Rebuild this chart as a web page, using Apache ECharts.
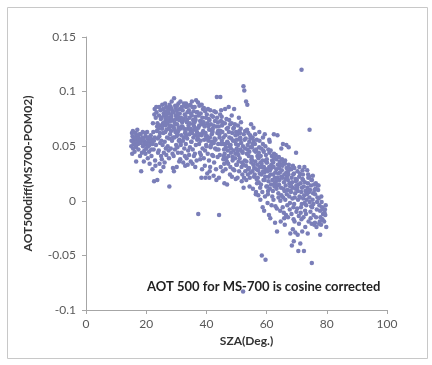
<!DOCTYPE html>
<html>
<head>
<meta charset="utf-8">
<script src="https://cdn.jsdelivr.net/npm/echarts@6/dist/echarts.min.js"></script>
<style>html,body{margin:0;padding:0;background:#fff}#c{width:432px;height:365px}</style>
</head>
<body>
<div id="c"></div>
<script>
// [SZA (deg), AOT500 diff] pairs
const ptsSza15to30 = [
[15.12,0.055],[15.47,0.059],[15.83,0.052],[15.26,0.062],[15.64,0.048],[15.91,0.057],[15.35,0.043],[15.72,0.054],[15.05,0.050],[15.58,0.064],
[16.38,0.056],[16.07,0.053],[16.81,0.060],[16.55,0.049],[16.22,0.058],[16.93,0.054],[16.66,0.036],[16.44,0.062],[16.15,0.045],[16.74,0.051],
[17.63,0.055],[17.18,0.059],[17.42,0.047],[17.87,0.053],[17.05,0.065],[17.71,0.061],[17.29,0.052],[17.95,0.041],[17.52,0.057],
[18.21,0.053],[18.74,0.058],[18.46,0.055],[18.09,0.061],[18.92,0.050],[18.33,0.027],[18.58,0.044],[18.85,0.063],[18.14,0.056],
[19.56,0.054],[19.28,0.051],[19.83,0.059],[19.12,0.056],[19.67,0.062],[19.39,0.046],[19.94,0.052],[19.21,0.036],[19.75,0.043],
[20.44,0.057],[20.16,0.053],[20.89,0.055],[20.62,0.050],[20.31,0.063],[20.77,0.058],[20.05,0.048],[20.53,0.039],[20.96,0.045],
[21.27,0.054],[21.83,0.056],[21.51,0.060],[21.08,0.051],[21.66,0.047],[21.39,0.058],[21.92,0.053],[21.14,0.034],[21.74,0.041],
[22.58,0.055],[22.13,0.052],[22.86,0.058],[22.37,0.063],[22.71,0.079],[22.24,0.071],[22.49,0.047],[22.95,0.037],[22.62,0.018],[22.08,0.029],[22.81,0.084],
[23.41,0.081],[23.17,0.076],[23.69,0.019],[23.88,0.057],[23.26,0.051],[23.54,0.064],[23.93,0.044],[23.07,0.032],[23.75,0.071],[23.33,0.086],[23.61,0.068],
[24.73,0.083],[24.26,0.078],[24.54,0.069],[24.09,0.066],[24.88,0.075],[24.37,0.059],[24.65,0.053],[24.18,0.046],[24.96,0.041],[24.43,0.034],[24.81,0.027],[24.31,0.086],[24.59,0.062],
[25.34,0.088],[25.79,0.080],[25.12,0.076],[25.57,0.071],[25.93,0.078],[25.26,0.066],[25.68,0.062],[25.04,0.055],[25.45,0.051],[25.86,0.044],[25.19,0.038],[25.62,0.084],[25.38,0.069],[25.73,0.031],
[26.62,0.086],[26.21,0.082],[26.87,0.079],[26.43,0.075],[26.06,0.072],[26.75,0.065],[26.34,0.063],[26.94,0.058],[26.15,0.054],[26.52,0.048],[26.68,0.042],[26.28,0.089],[26.81,0.076],[26.47,0.069],[26.11,0.035],
[27.18,0.085],[27.74,0.088],[27.39,0.081],[27.86,0.076],[27.05,0.071],[27.52,0.066],[27.27,0.073],[27.93,0.061],[27.61,0.057],[27.13,0.050],[27.45,0.046],[27.69,0.013],[27.34,0.083],[27.81,0.068],[27.57,0.039],[27.22,0.076],
[28.47,0.091],[28.13,0.086],[28.82,0.082],[28.36,0.077],[28.05,0.073],[28.69,0.068],[28.24,0.064],[28.91,0.058],[28.58,0.055],[28.17,0.048],[28.74,0.043],[28.41,0.084],[28.63,0.074],[28.09,0.069],[28.88,0.030],[28.29,0.079],
[29.26,0.094],[29.63,0.087],[29.08,0.081],[29.85,0.078],[29.41,0.072],[29.17,0.067],[29.72,0.063],[29.33,0.058],[29.94,0.051],[29.55,0.047],[29.12,0.041],[29.78,0.085],[29.47,0.065],[29.68,0.070],[29.21,0.027],[29.89,0.075]
];
const ptsSza30to45 = [
[30.71,0.089],[30.18,0.083],[30.46,0.080],[30.92,0.074],[30.27,0.070],[30.64,0.064],[30.09,0.059],[30.83,0.055],[30.37,0.049],[30.55,0.044],[30.96,0.036],[30.23,0.087],[30.58,0.077],[30.78,0.067],[30.13,0.031],[30.42,0.061],
[31.36,0.091],[31.82,0.086],[31.14,0.080],[31.57,0.076],[31.93,0.072],[31.25,0.066],[31.68,0.060],[31.07,0.056],[31.49,0.051],[31.77,0.044],[31.31,0.038],[31.88,0.073],[31.19,0.084],[31.62,0.068],[31.42,0.053],
[32.54,0.089],[32.13,0.083],[32.79,0.079],[32.38,0.074],[32.06,0.068],[32.91,0.062],[32.47,0.058],[32.21,0.055],[32.66,0.048],[32.85,0.041],[32.29,0.035],[32.72,0.087],[32.16,0.075],[32.59,0.066],[32.95,0.032],
[33.27,0.086],[33.71,0.081],[33.09,0.077],[33.52,0.072],[33.86,0.066],[33.34,0.060],[33.61,0.057],[33.15,0.052],[33.94,0.046],[33.43,0.039],[33.78,0.033],[33.22,0.089],[33.58,0.074],[33.05,0.063],
[34.65,0.088],[34.19,0.083],[34.88,0.080],[34.41,0.076],[34.07,0.069],[34.73,0.064],[34.32,0.061],[34.96,0.054],[34.55,0.049],[34.24,0.042],[34.81,0.036],[34.48,0.071],[34.12,0.087],[34.69,0.066],
[35.33,0.086],[35.77,0.082],[35.14,0.078],[35.58,0.074],[35.92,0.068],[35.26,0.062],[35.69,0.058],[35.05,0.054],[35.46,0.047],[35.84,0.041],[35.39,0.034],[35.61,0.070],[35.18,0.091],[35.88,0.065],
[36.58,0.092],[36.12,0.086],[36.83,0.081],[36.37,0.077],[36.04,0.072],[36.71,0.066],[36.25,0.060],[36.94,0.056],[36.49,0.051],[36.17,0.043],[36.76,0.037],[36.43,0.074],[36.88,0.063],[36.29,0.031],
[37.22,0.090],[37.67,0.087],[37.03,0.081],[37.48,0.078],[37.91,0.073],[37.35,0.067],[37.76,0.061],[37.14,0.057],[37.57,0.052],[37.83,0.044],[37.29,-0.012],[37.62,0.069],[37.09,0.059],[37.95,0.038],
[38.44,0.088],[38.86,0.084],[38.11,0.080],[38.63,0.076],[38.27,0.070],[38.92,0.064],[38.38,0.060],[38.05,0.055],[38.74,0.048],[38.19,0.042],[38.56,0.029],[38.81,0.072],[38.33,0.021],[38.68,0.062],
[39.17,0.085],[39.58,0.082],[39.84,0.076],[39.06,0.072],[39.41,0.068],[39.73,0.062],[39.26,0.056],[39.93,0.051],[39.52,0.046],[39.13,0.039],[39.67,0.021],[39.36,0.069],[39.88,0.059],[39.47,0.032],
[40.53,0.084],[40.14,0.079],[40.76,0.075],[40.35,0.071],[40.92,0.065],[40.21,0.059],[40.63,0.055],[40.07,0.050],[40.44,0.043],[40.85,0.037],[40.28,0.025],[40.69,0.068],[40.11,0.057],[40.97,0.021],
[41.29,0.083],[41.71,0.078],[41.05,0.074],[41.48,0.070],[41.87,0.064],[41.16,0.058],[41.62,0.054],[41.37,0.049],[41.93,0.042],[41.24,0.031],[41.78,0.061],[41.55,0.051],[41.09,0.027],
[42.61,0.082],[42.18,0.077],[42.84,0.073],[42.33,0.069],[42.07,0.063],[42.72,0.057],[42.46,0.053],[42.91,0.048],[42.25,0.041],[42.57,0.035],[42.13,0.066],[42.79,0.056],[42.39,0.023],
[43.14,0.081],[43.47,0.095],[43.83,0.072],[43.26,0.068],[43.62,0.062],[43.05,0.056],[43.91,0.052],[43.38,0.047],[43.73,0.040],[43.19,0.029],[43.56,0.076],[43.87,0.064],[43.31,0.019],
[44.57,0.079],[44.21,-0.013],[44.85,0.073],[44.12,0.068],[44.68,0.064],[44.36,0.058],[44.93,0.052],[44.04,0.047],[44.47,0.042],[44.77,0.031],[44.29,0.061],[44.63,0.095],[44.16,0.021],[44.89,0.083]
];
const ptsSza45to60 = [
[45.31,0.063],[45.76,0.041],[45.08,0.077],[45.54,0.052],[45.92,0.034],[45.19,0.069],[45.67,0.058],[45.42,0.027],[45.86,0.047],[45.24,0.072],[45.61,0.038],[45.13,0.055],[45.97,0.016],
[46.45,0.049],[46.13,0.071],[46.82,0.036],[46.28,0.060],[46.66,0.075],[46.05,0.043],[46.91,0.054],[46.36,0.029],[46.73,0.066],[46.19,0.052],[46.58,0.039],[46.87,0.015],[46.22,0.084],
[47.62,0.058],[47.24,0.034],[47.91,0.070],[47.08,0.046],[47.47,0.063],[47.83,0.024],[47.15,0.053],[47.56,0.074],[47.33,0.041],[47.74,0.050],[47.97,0.031],[47.41,0.086],[47.19,0.067],
[48.17,0.044],[48.58,0.062],[48.89,0.029],[48.36,0.071],[48.05,0.051],[48.71,0.037],[48.27,0.057],[48.93,0.066],[48.48,0.022],[48.12,0.048],[48.65,0.040],[48.42,0.078],[48.83,0.055],
[49.53,0.039],[49.14,0.067],[49.81,0.052],[49.27,0.028],[49.68,0.060],[49.06,0.046],[49.44,0.070],[49.92,0.033],[49.35,0.055],[49.76,0.020],[49.21,0.084],[49.61,0.043],[49.87,0.063],
[50.26,0.061],[50.71,0.036],[50.09,0.048],[50.48,0.069],[50.86,0.027],[50.17,0.056],[50.62,0.042],[50.35,0.021],[50.94,0.064],[50.55,0.051],[50.79,0.076],[50.13,0.033],[50.41,0.045],
[51.68,0.031],[51.22,0.058],[51.89,0.045],[51.41,0.066],[51.07,0.039],[51.56,0.053],[51.93,0.024],[51.15,0.062],[51.74,0.018],[51.33,0.047],[51.49,0.072],[51.82,0.035],[51.28,0.056],
[52.15,0.050],[52.31,0.105],[52.58,0.101],[52.76,0.037],[52.42,0.061],[52.91,0.027],[52.07,0.044],[52.64,0.056],[52.23,0.033],[52.87,0.064],[52.19,-0.083],[52.49,0.021],[52.83,0.048],[52.36,0.012],
[53.44,0.043],[53.18,0.091],[53.59,0.088],[53.86,0.029],[53.07,0.057],[53.72,0.051],[53.31,0.036],[53.93,0.062],[53.25,0.019],[53.66,0.047],[53.51,0.065],[53.12,0.032],[53.79,0.024],
[54.23,0.054],[54.67,0.026],[54.08,0.041],[54.52,0.060],[54.91,0.035],[54.34,0.013],[54.76,0.049],[54.16,0.030],[54.59,0.057],[54.43,0.021],[54.84,0.070],[54.28,0.045],[54.97,0.038],
[55.58,0.033],[55.14,0.049],[55.83,0.022],[55.36,0.058],[55.05,0.040],[55.71,0.055],[55.27,0.027],[55.92,0.046],[55.45,0.011],[55.19,0.037],[55.64,0.067],[55.88,0.030],[55.31,0.052],
[56.37,0.045],[56.82,0.016],[56.12,0.052],[56.61,0.029],[56.93,0.041],[56.26,0.036],[56.74,0.056],[56.05,0.024],[56.48,0.008],[56.88,0.033],[56.19,0.061],[56.55,0.047],[56.68,0.020],[56.41,0.006],
[57.16,0.028],[57.53,0.049],[57.87,0.012],[57.29,0.039],[57.64,0.055],[57.08,0.021],[57.95,0.035],[57.41,0.044],[57.72,0.025],[57.23,0.005],[57.58,0.063],[57.81,0.031],[57.35,0.017],[57.92,0.001],
[58.62,0.037],[58.27,0.024],[58.91,0.046],[58.13,0.015],[58.48,0.031],[58.76,0.052],[58.05,0.041],[58.57,0.008],[58.84,0.027],[58.33,0.034],[58.69,-0.006],[58.21,0.048],[58.96,0.019],[58.41,-0.050],[58.79,0.058],
[59.34,0.019],[59.77,0.042],[59.12,0.031],[59.58,0.050],[59.91,0.013],[59.26,0.026],[59.69,0.037],[59.05,0.045],[59.46,0.004],[59.83,0.029],[59.18,-0.009],[59.52,0.022],[59.95,0.035],[59.64,-0.054],[59.39,0.061]
];
const ptsSza60to80 = [
[60.55,0.047],[60.19,0.013],[60.86,0.031],[60.32,-0.002],[60.07,0.038],[60.71,0.022],[60.43,0.006],[60.93,0.044],[60.26,0.027],[60.64,0.018],[60.79,-0.013],[60.14,0.035],[60.48,0.009],[60.88,0.056],
[61.29,0.024],[61.74,0.041],[61.08,0.011],[61.57,0.033],[61.92,0.019],[61.36,0.046],[61.65,-0.004],[61.14,0.028],[61.83,0.037],[61.47,0.015],[61.22,-0.016],[61.88,0.004],[61.53,0.030],[61.03,0.054],
[62.67,0.016],[62.21,0.035],[62.88,0.026],[62.45,0.043],[62.09,0.009],[62.76,0.021],[62.34,0.031],[62.95,-0.005],[62.58,0.039],[62.16,0.024],[62.81,-0.020],[62.28,0.001],[62.62,0.013],[62.41,0.061],
[63.18,0.038],[63.56,0.021],[63.91,0.007],[63.27,0.029],[63.68,0.014],[63.04,0.042],[63.83,0.025],[63.39,-0.007],[63.72,0.033],[63.13,0.018],[63.47,-0.028],[63.96,0.003],[63.31,0.011],[63.61,0.060],
[64.43,0.026],[64.08,0.040],[64.79,0.012],[64.26,0.019],[64.61,0.033],[64.94,0.005],[64.17,0.030],[64.52,-0.009],[64.85,0.022],[64.34,0.036],[64.69,-0.019],[64.12,0.015],[64.57,0.000],[64.89,0.048],
[65.62,0.011],[65.24,0.032],[65.88,0.024],[65.11,0.038],[65.49,0.003],[65.77,0.017],[65.06,0.028],[65.35,-0.006],[65.93,0.009],[65.56,0.035],[65.19,0.021],[65.71,-0.011],[65.42,0.052],[65.84,-0.016],
[66.27,0.020],[66.71,0.006],[66.09,0.034],[66.53,0.026],[66.87,-0.004],[66.36,0.014],[66.64,0.030],[66.15,0.037],[66.92,0.010],[66.45,-0.013],[66.79,0.022],[66.21,0.001],[66.58,0.051],[66.04,-0.022],
[67.54,0.004],[67.16,0.027],[67.83,0.013],[67.38,0.033],[67.07,0.019],[67.69,-0.008],[67.27,0.024],[67.95,0.009],[67.44,0.030],[67.12,-0.015],[67.76,-0.002],[67.61,0.016],[67.33,0.049],[67.88,-0.030],
[68.19,0.029],[68.66,0.012],[68.91,-0.006],[68.32,0.021],[68.74,0.032],[68.06,0.008],[68.48,0.017],[68.85,0.024],[68.27,-0.012],[68.58,0.002],[68.13,0.014],[68.96,-0.017],[68.39,-0.041],[68.71,-0.026],
[69.73,0.018],[69.35,0.003],[69.09,0.025],[69.58,0.011],[69.91,-0.010],[69.22,0.030],[69.64,0.020],[69.14,-0.003],[69.47,0.007],[69.86,0.014],[69.28,-0.019],[69.79,0.044],[69.03,-0.037],[69.52,-0.029],
[70.38,0.009],[70.82,0.022],[70.15,-0.007],[70.57,0.015],[70.93,0.004],[70.26,0.027],[70.69,-0.014],[70.05,0.019],[70.44,0.001],[70.76,-0.021],[70.21,0.012],[70.88,0.031],[70.53,-0.046],[70.32,-0.031],
[71.26,0.016],[71.68,-0.003],[71.07,0.025],[71.52,0.008],[71.89,0.020],[71.34,-0.011],[71.75,0.012],[71.13,0.003],[71.58,-0.017],[71.94,0.028],[71.61,0.120],[71.41,-0.006],[71.19,-0.039],[71.83,-0.028],
[72.47,0.005],[72.12,0.019],[72.79,-0.009],[72.33,0.013],[72.06,0.024],[72.65,-0.002],[72.91,0.009],[72.24,-0.015],[72.56,0.031],[72.85,-0.024],[72.18,0.002],[72.71,0.017],[72.41,-0.046],
[73.58,0.012],[73.17,-0.004],[73.86,0.021],[73.39,0.006],[73.08,-0.012],[73.72,0.016],[73.27,0.001],[73.94,-0.019],[73.49,0.028],[73.13,0.009],[73.66,-0.030],[73.81,0.024],
[74.31,-0.001],[74.74,0.014],[74.09,0.008],[74.56,-0.010],[74.88,0.019],[74.22,0.003],[74.63,-0.016],[74.15,0.022],[74.45,0.010],[74.27,0.065],[74.81,-0.005],[74.96,-0.021],
[75.44,0.007],[75.13,-0.006],[75.78,0.015],[75.29,0.001],[75.62,-0.013],[75.91,0.010],[75.06,0.019],[75.53,-0.003],[75.02,-0.057],[75.84,-0.022],[75.36,0.023],
[76.68,-0.008],[76.24,0.011],[76.89,0.003],[76.43,-0.015],[76.11,0.006],[76.77,-0.001],[76.35,0.016],[76.06,-0.020],[76.57,-0.024],[76.95,0.014],
[77.31,0.002],[77.76,-0.009],[77.12,0.010],[77.54,-0.004],[77.89,-0.015],[77.23,0.014],[77.67,-0.019],[77.81,-0.031],[77.45,-0.021],
[78.42,-0.006],[78.17,0.004],[78.73,-0.012],[78.29,-0.001],[78.56,-0.017],[78.88,-0.008],[78.08,-0.022],
[79.26,-0.011],[79.63,-0.004],[79.11,-0.019],[79.48,-0.013],[79.82,-0.024],[79.37,-0.008]
];
const xAxisTitle = 'SZA(Deg.)';
const yAxisTitle = 'AOT500diff(MS700-POM02)';
const noteText = 'AOT 500 for MS-700 is cosine corrected';

const allPoints = [].concat(ptsSza15to30, ptsSza30to45, ptsSza45to60, ptsSza60to80);
const FONT = 'Lato, "Open Sans", sans-serif';
const chart = echarts.init(document.getElementById('c'), null, {renderer: 'canvas'});
chart.setOption({
  backgroundColor: '#ffffff',
  animation: false,
  grid: {left: 86, right: 45, top: 37, bottom: 55},
  xAxis: {
    type: 'value', min: 0, max: 100, interval: 20,
    name: xAxisTitle, nameLocation: 'middle', nameGap: 24,
    nameTextStyle: {fontFamily: FONT, fontSize: 12, fontWeight: 'bold', color: '#333', padding: [0, 0, 0, 20]},
    axisLine: {onZero: false, lineStyle: {color: '#a6a6a6', width: 1}},
    axisTick: {show: true, length: 4, lineStyle: {color: '#a6a6a6'}},
    axisLabel: {fontFamily: FONT, fontSize: 12, color: '#595959', margin: 8},
    splitLine: {show: false}
  },
  yAxis: {
    type: 'value', min: -0.1, max: 0.15, interval: 0.05,
    name: yAxisTitle, nameLocation: 'middle', nameGap: 52, nameRotate: 90,
    nameTextStyle: {fontFamily: FONT, fontSize: 12, fontWeight: 'bold', color: '#333'},
    axisLine: {show: true, onZero: false, lineStyle: {color: '#a6a6a6', width: 1}},
    axisTick: {show: true, length: 4, lineStyle: {color: '#a6a6a6'}},
    axisLabel: {fontFamily: FONT, fontSize: 12, color: '#595959', margin: 10},
    splitLine: {show: false}
  },
  graphic: [
    {type: 'rect', shape: {x: 7.5, y: 7.5, width: 420, height: 351}, style: {fill: 'none', stroke: '#c8c8c8', lineWidth: 1}, z: -1},
    {type: 'text', left: 147, top: 280, style: {text: noteText, font: 'bold 13px ' + FONT, fill: '#222'}, z: 0}
  ],
  series: [{
    type: 'scatter',
    data: allPoints,
    symbol: 'circle',
    symbolSize: 4.5,
    itemStyle: {color: '#7a7eb8', opacity: 1},
    z: 5
  }]
});
</script>
</body>
</html>
